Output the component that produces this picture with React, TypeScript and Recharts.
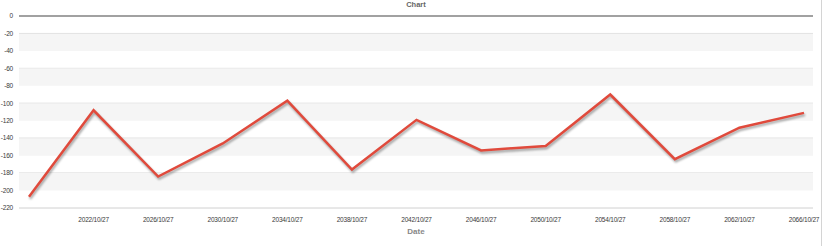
import { LineChart, Line, XAxis, YAxis, CartesianGrid, ReferenceLine, ReferenceArea } from 'recharts';

const dates = [
	'2018/10/27',
	'2022/10/27',
	'2026/10/27',
	'2030/10/27',
	'2034/10/27',
	'2038/10/27',
	'2042/10/27',
	'2046/10/27',
	'2050/10/27',
	'2054/10/27',
	'2058/10/27',
	'2062/10/27',
	'2066/10/27',
];

const values = [-207, -108, -184, -146, -97, -176, -119, -154, -149, -90, -164, -128, -111];

const xTicks = dates.slice(1);

const yTicks = [0, -20, -40, -60, -80, -100, -120, -140, -160, -180, -200, -220];

const data = dates.map((date, i) => ({ date, value: values[i] }));

// shaded bands: every other interval, starting with -20..-40
const bands = yTicks.slice(1, -1).filter((_, i) => i % 2 === 0).map((t) => [t, t - 20]);

const font = '"Liberation Sans", Arial, sans-serif';

const tickStyle = { fontSize: 6.5, fill: '#3a3a3a', fontFamily: font, letterSpacing: -0.2 };

export default function App() {
	return (
		<div
			style={{
				position: 'relative',
				width: 822,
				height: 246,
				background: '#fff',
				fontFamily: font,
				boxSizing: 'border-box',
				borderRight: '1px solid #d4d4d4',
			}}
		>
			<style>{`
				body { margin: 0; }
				.recharts-line-curve { filter: drop-shadow(1px 2px 1px rgba(0,0,0,0.35)); }
			`}</style>
			<div
				style={{
					position: 'absolute',
					top: 0,
					left: 19,
					width: 794,
					textAlign: 'center',
					fontSize: 7.5,
					lineHeight: '9px',
					fontWeight: 'bold',
					color: '#666',
				}}
			>
				Chart
			</div>
			<LineChart
				width={822}
				height={246}
				data={data}
				margin={{ top: 16, right: 9, bottom: 12, left: 0 }}
			>
				{bands.map(([a, b]) => (
					<ReferenceArea
						key={a}
						xAxisId="full"
						x1={0}
						x2={1}
						y1={a}
						y2={b}
						fill="#f5f5f5"
						fillOpacity={1}
						stroke="none"
						ifOverflow="visible"
					/>
				))}
				<CartesianGrid vertical={false} stroke="#d0d0d0" />
				<XAxis
					xAxisId="full"
					type="number"
					dataKey="none"
					domain={[0, 1]}
					allowDataOverflow
					hide
				/>
				<XAxis
					dataKey="date"
					ticks={xTicks}
					axisLine={false}
					tickLine={false}
					tickSize={0}
					tickMargin={9}
					height={26}
					padding={{ left: 10, right: 9 }}
					tick={tickStyle}
					label={{
						value: 'Date',
						position: 'insideBottom',
						offset: 0,
						style: { fontSize: 8, fontWeight: 'bold', fill: '#888', fontFamily: font },
					}}
				/>
				<YAxis
					domain={[-220, 0]}
					ticks={yTicks}
					width={19}
					axisLine={false}
					tickLine={false}
					tickMargin={0}
					tick={tickStyle}
				/>
				<ReferenceLine y={0} stroke="#8a8a8a" strokeWidth={1.5} />
				<Line
					type="linear"
					dataKey="value"
					stroke="#e04a3c"
					strokeWidth={2.5}
					dot={false}
					activeDot={false}
					isAnimationActive={false}
				/>
			</LineChart>
		</div>
	);
}
